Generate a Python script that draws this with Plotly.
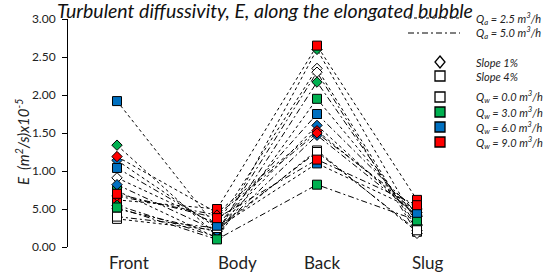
import plotly.graph_objects as go

# ---------------- data ----------------
categories = ["Front", "Body", "Back", "Slug"]
y_tick_vals = [0.0, 0.5, 1.0, 1.5, 2.0, 2.5, 3.0]
y_tick_text = ["0.00", "5.00", "1.00", "1.50", "2.00", "2.50", "3.00"]

# series: Qa = 2.5 m3/h (dotted)
qa25_s1_qw0 = [0.91, 0.30, 2.35, 0.22]
qa25_s1_qw3 = [1.34, 0.15, 2.60, 0.30]
qa25_s1_qw6 = [1.14, 0.25, 1.60, 0.40]
qa25_s1_qw9 = [1.19, 0.45, 1.53, 0.45]
qa25_s4_qw0 = [0.37, 0.22, 1.27, 0.20]
qa25_s4_qw3 = [0.74, 0.12, 1.95, 0.36]
qa25_s4_qw6 = [1.92, 0.25, 1.10, 0.48]
qa25_s4_qw9 = [0.62, 0.50, 2.65, 0.62]
# series: Qa = 5.0 m3/h (dash-dot)
qa50_s1_qw0 = [0.50, 0.20, 2.30, 0.18]
qa50_s1_qw3 = [0.55, 0.13, 2.17, 0.28]
qa50_s1_qw6 = [0.82, 0.21, 1.47, 0.42]
qa50_s1_qw9 = [0.67, 0.42, 1.50, 0.50]
qa50_s4_qw0 = [0.40, 0.25, 1.25, 0.22]
qa50_s4_qw3 = [0.52, 0.10, 0.82, 0.35]
qa50_s4_qw6 = [1.04, 0.28, 1.75, 0.45]
qa50_s4_qw9 = [0.70, 0.38, 1.15, 0.55]

qa_labels = ["Q<sub>a</sub> = 2.5 m<sup>3</sup>/h", "Q<sub>a</sub> = 5.0 m<sup>3</sup>/h"]
slope_labels = ["Slope 1%", "Slope 4%"]
qw_labels = ["Q<sub>w</sub> = 0.0 m<sup>3</sup>/h", "Q<sub>w</sub> = 3.0 m<sup>3</sup>/h",
             "Q<sub>w</sub> = 6.0 m<sup>3</sup>/h", "Q<sub>w</sub> = 9.0 m<sup>3</sup>/h"]

title_text = "Turbulent diffussivity, E, along the elongated bubble"
y_title = "E  (m<sup>2</sup>/s)x10<sup>-5</sup>"

# ---------------- styles ----------------
qw_colors = ["#FFFFFF", "#00B050", "#0070C0", "#FF0000"]
qa_dashes = ["dot", "6px,3px,2px,3px"]
slope_symbols = ["diamond", "square"]
slope_sizes = [8, 9]
FONT = "Lato"

series = [
    (qa25_s1_qw0, 0, 0, 0), (qa25_s1_qw3, 0, 0, 1), (qa25_s1_qw6, 0, 0, 2), (qa25_s1_qw9, 0, 0, 3),
    (qa25_s4_qw0, 0, 1, 0), (qa25_s4_qw3, 0, 1, 1), (qa25_s4_qw6, 0, 1, 2), (qa25_s4_qw9, 0, 1, 3),
    (qa50_s1_qw0, 1, 0, 0), (qa50_s1_qw3, 1, 0, 1), (qa50_s1_qw6, 1, 0, 2), (qa50_s1_qw9, 1, 0, 3),
    (qa50_s4_qw0, 1, 1, 0), (qa50_s4_qw3, 1, 1, 1), (qa50_s4_qw6, 1, 1, 2), (qa50_s4_qw9, 1, 1, 3),
]

x_pos = list(range(len(categories)))

fig = go.Figure()
for vals, qa, sl, qw in series:
    fig.add_trace(go.Scatter(
        x=x_pos, y=vals, mode="lines+markers",
        line=dict(color="black", width=1, dash=qa_dashes[qa]),
        marker=dict(symbol=slope_symbols[sl], size=slope_sizes[sl], color=qw_colors[qw],
                    line=dict(color="black", width=1)),
        showlegend=False, cliponaxis=False,
    ))

W, H = 550, 273
L, R, T, B = 68, 468, 19, 247  # plot area in pixels


def px(xp):
    return (xp - L) / (R - L)


def py(yp):
    return (B - yp) / (B - T)


annotations = []
shapes = []

# y-axis title
annotations.append(dict(text="<i>" + y_title + "</i>", x=px(22), y=py(142), xref="paper",
                        yref="paper", textangle=-90, showarrow=False, xanchor="center",
                        yanchor="middle", font=dict(family=FONT, size=15, color="#222"),))
# category labels (placed slightly right of the points, as in reference)
label_shift = [12, 20, 5, 11]
for i, c in enumerate(categories):
    annotations.append(dict(text=c, x=x_pos[i], y=py(262), xref="x", yref="paper",
                            xshift=label_shift[i], showarrow=False, xanchor="center",
                            yanchor="middle", font=dict(family=FONT, size=17, color="#222")))

# custom legend
text_x = 474
LEG_SIZE = 11
qa_rows = [18, 33]
for i, lab in enumerate(qa_labels):
    shapes.append(dict(type="line", xref="paper", yref="paper", x0=px(408), x1=px(460),
                       y0=py(qa_rows[i]), y1=py(qa_rows[i]),
                       line=dict(color="black", width=1, dash=qa_dashes[i])))
    annotations.append(dict(text="<i>" + lab + "</i>", x=px(text_x), y=py(qa_rows[i]),
                            xref="paper", yref="paper", showarrow=False, xanchor="left",
                            yanchor="middle", font=dict(family=FONT, size=LEG_SIZE, color="#222")))

slope_rows = [62, 76]
mx = 440
for i, lab in enumerate(slope_labels):
    yc = slope_rows[i]
    if slope_symbols[i] == "diamond":
        path = (f"M {px(mx)},{py(yc-6)} L {px(mx+5)},{py(yc)} L {px(mx)},{py(yc+6)} "
                f"L {px(mx-5)},{py(yc)} Z")
        shapes.append(dict(type="path", xref="paper", yref="paper", path=path,
                           fillcolor="white", line=dict(color="black", width=1.3)))
    else:
        shapes.append(dict(type="rect", xref="paper", yref="paper", x0=px(mx-5), x1=px(mx+5),
                           y0=py(yc-5), y1=py(yc+5), fillcolor="white",
                           line=dict(color="black", width=1.3)))
    annotations.append(dict(text="<i>" + lab + "</i>", x=px(text_x), y=py(yc),
                            xref="paper", yref="paper", showarrow=False, xanchor="left",
                            yanchor="middle", font=dict(family=FONT, size=LEG_SIZE, color="#222")))

qw_rows = [97, 112, 127, 142]
for i, lab in enumerate(qw_labels):
    yc = qw_rows[i]
    shapes.append(dict(type="rect", xref="paper", yref="paper", x0=px(mx-5), x1=px(mx+5),
                       y0=py(yc-5), y1=py(yc+5), fillcolor=qw_colors[i],
                       line=dict(color="black", width=1.3)))
    annotations.append(dict(text="<i>" + lab + "</i>", x=px(text_x), y=py(yc),
                            xref="paper", yref="paper", showarrow=False, xanchor="left",
                            yanchor="middle", font=dict(family=FONT, size=LEG_SIZE, color="#222")))

fig.update_layout(
    width=W, height=H,
    margin=dict(l=L, r=W - R, t=T, b=H - B, pad=0),
    paper_bgcolor="white", plot_bgcolor="white",
    title=dict(text="<i>" + title_text + "</i>", x=px(265), xref="paper", xanchor="center",
               y=1 - 11 / H, yref="container", yanchor="middle",
               font=dict(family=FONT, size=19.5, color="#111")),
    xaxis=dict(range=[(L - 117) / 100, (R - 117) / 100], showgrid=False, zeroline=False,
               showline=False, showticklabels=False, ticks=""),
    yaxis=dict(range=[0, 3], tickvals=y_tick_vals, ticktext=y_tick_text, showgrid=False,
               zeroline=False, showline=True, linecolor="black", linewidth=1,
               ticks="outside", ticklen=5, tickcolor="black", ticklabelstandoff=4,
               tickfont=dict(family=FONT, size=12, color="#222")),
    annotations=annotations, shapes=shapes, showlegend=False,
)

fig.write_html("out.html", config={"displayModeBar": False},
               post_script="document.body.style.margin='0';")
